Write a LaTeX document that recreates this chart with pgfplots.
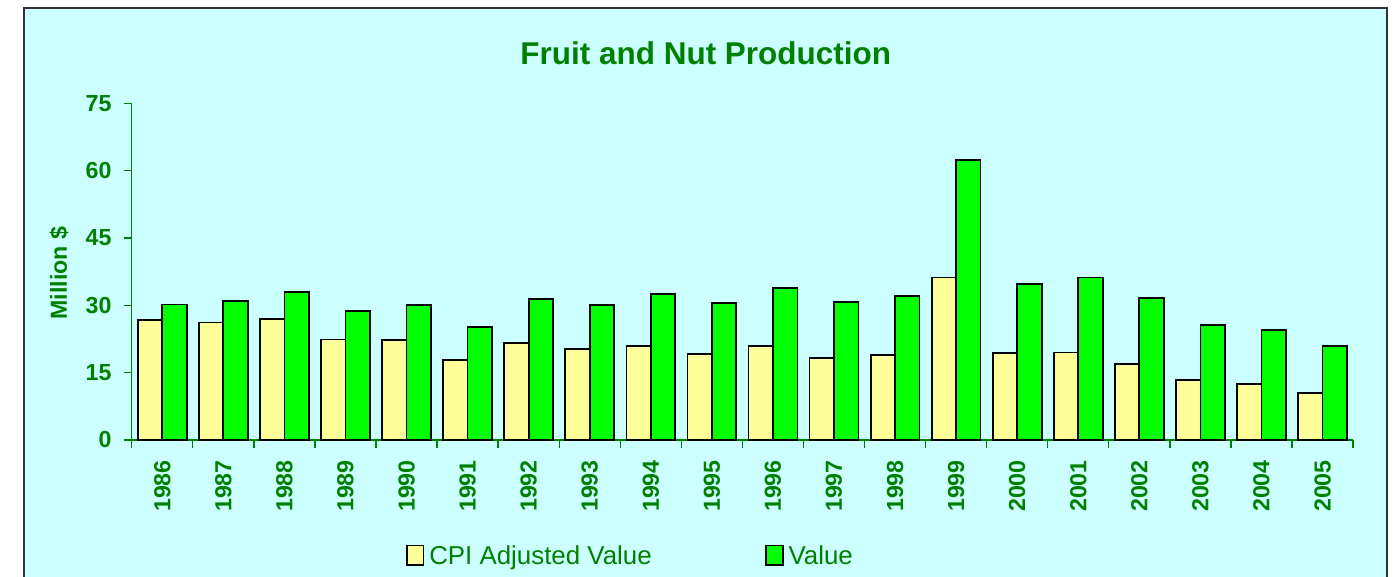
\documentclass[border=0pt]{standalone}
\usepackage{pgfplots}
\pgfplotsset{compat=1.18}
\usepackage{fontspec}
\setmainfont{Liberation Sans}
\definecolor{bgcyan}{RGB}{204,255,255}
\definecolor{cpiyel}{RGB}{255,255,153}
\definecolor{valgreen}{RGB}{0,255,0}
\definecolor{txtgreen}{RGB}{0,128,0}
\begin{document}
\begin{tikzpicture}
\path[use as bounding box] (0,0) rectangle (1048.5pt,432pt);
\draw[line width=1.5pt, draw=black!80, fill=bgcyan] (18pt,-5pt) rectangle (1040.25pt,426pt);
\begin{axis}[
  at={(98.8pt,102pt)}, anchor=south west,
  scale only axis, width=916pt, height=252.5pt,
  xmin=-0.5, xmax=19.5, ymin=0, ymax=75,
  axis x line=bottom, axis y line=left,
  axis line style={-, draw=txtgreen, line width=1pt},
  tick align=outside, major tick length=6pt,
  tick style={draw=txtgreen, line width=1pt},
  xtick={-0.5,0.5,...,19.5},
  x tick label as interval,
  xticklabels={1986,1987,1988,1989,1990,1991,1992,1993,1994,1995,1996,1997,1998,1999,2000,2001,2002,2003,2004,2005},
  xticklabel style={yshift=-9pt, rotate=90, anchor=east, inner sep=0pt, font=\fontsize{17.4}{18}\selectfont\bfseries, text=txtgreen},
  ytick={0,15,30,45,60,75},
  yticklabel style={anchor=east, inner sep=0pt, xshift=-9pt, font=\fontsize{17.4}{18}\selectfont\bfseries, text=txtgreen},
  /pgf/number format/assume math mode=true,
  ylabel={Million \$},
  ylabel style={at={(axis description cs:-0.0595,0.496)}, anchor=center, rotate=0, font=\fontsize{17.4}{18}\selectfont\bfseries, text=txtgreen},
  title={Fruit and Nut Production},
  every axis title/.style={at={(axis description cs:0.47,1.1158)}, anchor=base, font=\fontsize{23.6}{26}\selectfont\bfseries, text=txtgreen},
  bar width=0.4,
  legend columns=2,
  legend style={at={(axis description cs:0.2243,-0.3068)}, anchor=north west, draw=none, fill=none, inner sep=0pt, font=\fontsize{19.4}{21}\selectfont, text=txtgreen,
    cells={anchor=base west},
    /tikz/every odd column/.append style={column sep=1.8pt},
    /tikz/every even column/.append style={column sep=83.2pt}},
  legend image code/.code={\draw[#1, line width=1.2pt] (0pt,0pt) rectangle (12.5pt,14.5pt);},
]
\addplot[ybar, bar shift=-0.2, fill=cpiyel, draw=black, line width=1.3pt] coordinates {
(0,26.7) (1,26.2) (2,27.0) (3,22.4) (4,22.3) (5,17.8) (6,21.6) (7,20.2) (8,21.0) (9,19.2)
(10,20.9) (11,18.3) (12,18.9) (13,36.2) (14,19.4) (15,19.5) (16,17.0) (17,13.3) (18,12.4) (19,10.4)};
\addlegendentry{CPI Adjusted Value}
\addplot[ybar, bar shift=0.2, fill=valgreen, draw=black, line width=1.3pt] coordinates {
(0,30.2) (1,30.9) (2,33.0) (3,28.8) (4,30.0) (5,25.2) (6,31.4) (7,30.1) (8,32.5) (9,30.6)
(10,33.8) (11,30.7) (12,32.1) (13,62.3) (14,34.8) (15,36.2) (16,31.6) (17,25.6) (18,24.5) (19,20.9)};
\addlegendentry{Value}
\end{axis}
\end{tikzpicture}
\end{document}
